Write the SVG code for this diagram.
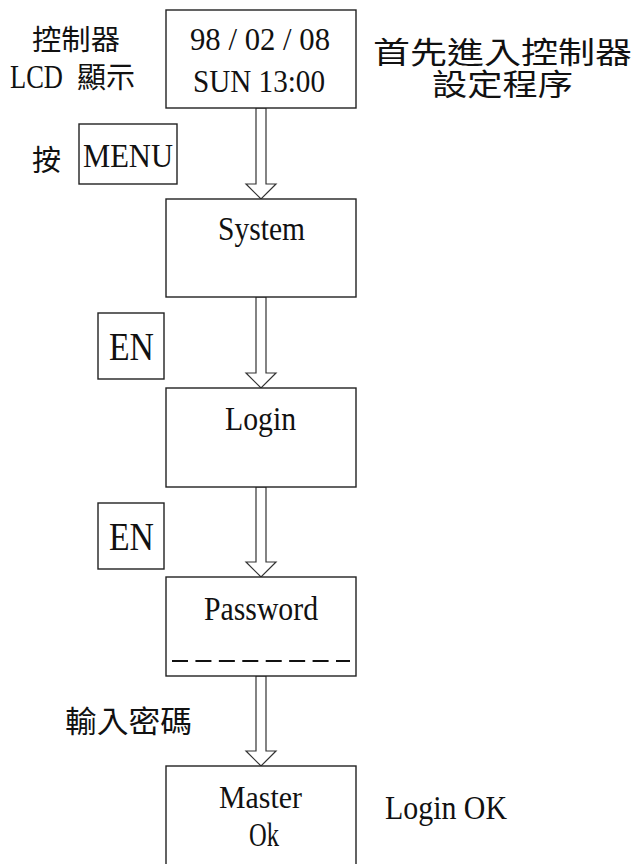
<svg xmlns="http://www.w3.org/2000/svg" width="639" height="864" viewBox="0 0 639 864">
<style>
.box{fill:#fff;stroke:#222;stroke-width:1.4}
.arr{fill:#fff;stroke:#333;stroke-width:1.2;stroke-linejoin:miter}
.lat{font-family:"Liberation Serif","Times New Roman",serif;fill:#111}
.cjk{font-family:"Noto Sans CJK TC","Noto Sans CJK SC",sans-serif;fill:#111}
.dash{stroke:#111;stroke-width:1.8;stroke-dasharray:16 7.43;fill:none}
</style>
<rect width="639" height="864" fill="#fff"/>
<g id="connectors">
<polygon class="arr" points="256,108 266,108 266,184 276,184 261,199 246,184 256,184"/>
<polygon class="arr" points="256,297 266,297 266,373 276,373 261,388 246,373 256,373"/>
<polygon class="arr" points="256,487 266,487 266,562 276,562 261,577 246,562 256,562"/>
<polygon class="arr" points="256,676 266,676 266,751 276,751 261,766 246,751 256,751"/>
</g>
<g id="lcd">
<rect class="box" x="166" y="10" width="190" height="98"/>
<text class="lat" x="190" y="50" font-size="32" textLength="140" lengthAdjust="spacingAndGlyphs">98 / 02 / 08</text>
<text class="lat" x="193" y="92" font-size="32" textLength="132" lengthAdjust="spacingAndGlyphs">SUN 13:00</text>
</g>
<g id="lcd-label">
<text class="cjk" x="32" y="50" font-size="28" textLength="88" lengthAdjust="spacingAndGlyphs">控制器</text>
<text class="cjk" y="88" font-size="29"><tspan class="lat" x="10" font-size="33" textLength="53" lengthAdjust="spacingAndGlyphs">LCD</tspan> <tspan x="77">顯示</tspan></text>
</g>
<g id="title">
<text class="cjk" x="373" y="62.5" font-size="30" textLength="259" lengthAdjust="spacingAndGlyphs">首先進入控制器</text>
<text class="cjk" x="432" y="94.5" font-size="30" textLength="141" lengthAdjust="spacingAndGlyphs">設定程序</text>
</g>
<g id="menu">
<text class="cjk" x="32" y="171" font-size="29">按</text>
<rect class="box" x="79" y="124" width="98" height="60"/>
<text class="lat" x="83" y="167" font-size="34" textLength="90" lengthAdjust="spacingAndGlyphs">MENU</text>
</g>
<g id="system">
<rect class="box" x="166" y="199" width="190" height="98"/>
<text class="lat" x="218" y="240" font-size="34" textLength="87" lengthAdjust="spacingAndGlyphs">System</text>
</g>
<g id="en1">
<rect class="box" x="98" y="313" width="66" height="66"/>
<text class="lat" x="109" y="360" font-size="40" textLength="45" lengthAdjust="spacingAndGlyphs">EN</text>
</g>
<g id="login">
<rect class="box" x="166" y="388" width="190" height="99"/>
<text class="lat" x="225" y="430" font-size="34" textLength="71" lengthAdjust="spacingAndGlyphs">Login</text>
</g>
<g id="en2">
<rect class="box" x="98" y="503" width="66" height="66"/>
<text class="lat" x="109" y="550" font-size="40" textLength="45" lengthAdjust="spacingAndGlyphs">EN</text>
</g>
<g id="password">
<rect class="box" x="166" y="577" width="190" height="99"/>
<text class="lat" x="204" y="620" font-size="34" textLength="114" lengthAdjust="spacingAndGlyphs">Password</text>
<line class="dash" x1="172" y1="661" x2="350" y2="661"/>
</g>
<g id="input-label">
<text class="cjk" x="65" y="732" font-size="30" textLength="127" lengthAdjust="spacingAndGlyphs">輸入密碼</text>
</g>
<g id="master">
<rect class="box" x="166" y="766" width="190" height="110"/>
<text class="lat" x="219" y="808" font-size="32" textLength="83" lengthAdjust="spacingAndGlyphs">Master</text>
<text class="lat" x="249" y="846" font-size="33" textLength="30" lengthAdjust="spacingAndGlyphs">Ok</text>
</g>
<g id="login-ok">
<text class="lat" x="385" y="819" font-size="33" textLength="122" lengthAdjust="spacingAndGlyphs">Login OK</text>
</g>
</svg>
